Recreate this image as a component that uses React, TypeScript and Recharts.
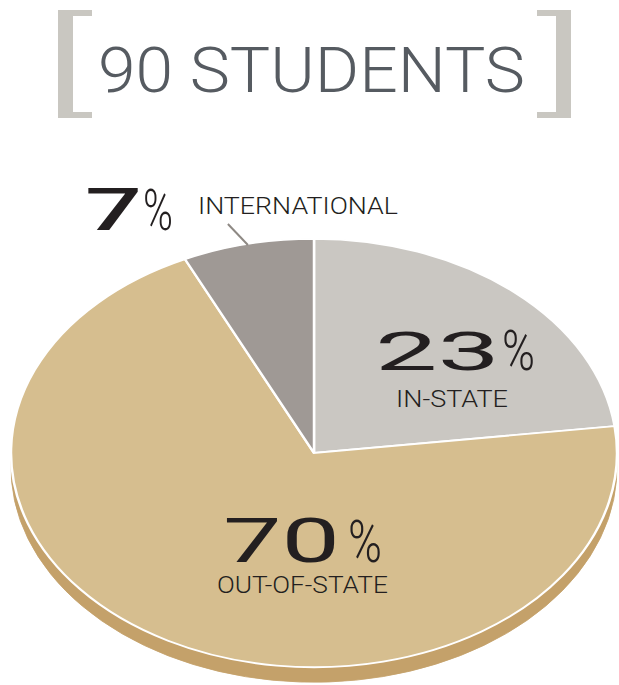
import React from 'react';
import { PieChart, Pie, Cell } from 'recharts';

const categories = ['In-State', 'Out-of-State', 'International'];
const shares = [23, 70, 7];
const title = '90 STUDENTS';

const COLORS = ['#cac7c2', '#d6be8f', '#9f9995'];
const RIM = '#c4a16a';

const data = categories.map((name, i) => ({ name, value: shares[i] }));

// pie geometry: circle squashed vertically to look tilted
const CX = 314;
const CY_SCREEN = 453;
const R = 303;
const K = 0.707;
const CHART_CY = 320;
const DEPTH = 15;

const total = shares.reduce((a, b) => a + b, 0);
const midAngle = (idx: number) => {
  const before = shares.slice(0, idx).reduce((a, b) => a + b, 0);
  return 90 - ((before + shares[idx] / 2) / total) * 360;
};
const rad = (d: number) => (d * Math.PI) / 180;

const labelStyle = { fontFamily: 'Roboto, sans-serif', fill: '#231f20' };

const App: React.FC = () => {
  const intlAngle = midAngle(2);
  const lx = CX + R * Math.cos(rad(intlAngle));
  const ly = CY_SCREEN - R * K * Math.sin(rad(intlAngle));

  return (
    <div style={{ position: 'absolute', left: 0, top: 0, width: 619, height: 685, overflow: 'hidden', background: '#fff' }}>
      <div
        style={{
          position: 'absolute',
          left: 0,
          top: CY_SCREEN - CHART_CY,
          width: 619,
          height: 700,
          transform: `scaleY(${K})`,
          transformOrigin: `50% ${CHART_CY}px`,
        }}
      >
        <PieChart width={619} height={700} margin={{ top: 0, right: 0, bottom: 0, left: 0 }}>
          <Pie
            data={data}
            dataKey="value"
            cx={CX}
            cy={CHART_CY + DEPTH / K}
            outerRadius={R}
            startAngle={90}
            endAngle={-270}
            fill={RIM}
            stroke={RIM}
            isAnimationActive={false}
          />
          <Pie
            data={data}
            dataKey="value"
            cx={CX}
            cy={CHART_CY}
            outerRadius={R}
            startAngle={90}
            endAngle={-270}
            stroke="#fff"
            strokeWidth={2.5}
            isAnimationActive={false}
          >
            {data.map((entry, index) => (
              <Cell key={`cell-${index}`} fill={COLORS[index % COLORS.length]} />
            ))}
          </Pie>
        </PieChart>
      </div>

      <svg width={619} height={685} style={{ position: 'absolute', left: 0, top: 0, pointerEvents: 'none' }}>
        {/* brackets */}
        <rect x={58} y={10} width={15} height={108} fill="#c9c7c1" />
        <rect x={58} y={10} width={34} height={6} fill="#c9c7c1" />
        <rect x={58} y={112} width={34} height={6} fill="#c9c7c1" />
        <rect x={556} y={10} width={15} height={108} fill="#c9c7c1" />
        <rect x={537} y={10} width={34} height={6} fill="#c9c7c1" />
        <rect x={537} y={112} width={34} height={6} fill="#c9c7c1" />
        <text
          x={98}
          y={92}
          fontFamily="Roboto, sans-serif"
          fontWeight={300}
          fontSize={63}
          fill="#565b61"
          textLength={427}
          lengthAdjust="spacingAndGlyphs"
        >
          {title}
        </text>

        {/* in-state */}
        <text x={375} y={370} {...labelStyle} fontSize={53} fontWeight={400} textLength={125} lengthAdjust="spacingAndGlyphs">
          {shares[0]}
        </text>
        <text x={502} y={370} {...labelStyle} fontSize={56} fontWeight={300} textLength={33} lengthAdjust="spacingAndGlyphs">
          %
        </text>
        <text x={396} y={407} {...labelStyle} fontSize={24} fontWeight={300} textLength={112} lengthAdjust="spacingAndGlyphs">
          {categories[0].toUpperCase()}
        </text>

        {/* out-of-state */}
        <text x={223} y={562} {...labelStyle} fontSize={62} fontWeight={400} textLength={117} lengthAdjust="spacingAndGlyphs">
          {shares[1]}
        </text>
        <text x={348} y={562} {...labelStyle} fontSize={60} fontWeight={300} textLength={34} lengthAdjust="spacingAndGlyphs">
          %
        </text>
        <text x={217} y={593} {...labelStyle} fontSize={24} fontWeight={300} textLength={171} lengthAdjust="spacingAndGlyphs">
          {categories[1].toUpperCase()}
        </text>

        {/* international */}
        <line x1={lx - 20} y1={ly - 20} x2={lx} y2={ly + 1} stroke="#8e8984" strokeWidth={2} />
        <text x={85} y={230} {...labelStyle} fontSize={60} fontWeight={500} textLength={57} lengthAdjust="spacingAndGlyphs">
          {shares[2]}
        </text>
        <text x={143} y={230} {...labelStyle} fontSize={58} fontWeight={300} textLength={30} lengthAdjust="spacingAndGlyphs">
          %
        </text>
        <text x={198} y={214} {...labelStyle} fontSize={23} fontWeight={300} textLength={200} lengthAdjust="spacingAndGlyphs">
          {categories[2].toUpperCase()}
        </text>
      </svg>
    </div>
  );
};

export default App;
